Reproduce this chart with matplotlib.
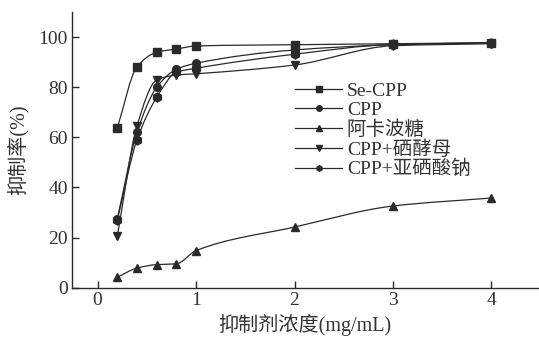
import numpy as np
import matplotlib
matplotlib.use('Agg')
import matplotlib.pyplot as plt
from matplotlib.path import Path
from matplotlib.patches import PathPatch
from matplotlib.lines import Line2D

plt.rcParams['font.family'] = ['Liberation Serif', 'Noto Sans CJK SC']
plt.rcParams['axes.unicode_minus'] = False

# ## Data ## #
conc = [0.2, 0.4, 0.6, 0.8, 1.0, 2.0, 3.0, 4.0]  # mg/mL

se_cpp = [63.8, 88.2, 94.0, 95.3, 96.5, 97.0, 97.4, 97.8]
cpp = [27.5, 62.0, 80.0, 87.2, 89.6, 94.9, 97.0, 97.8]
acarbose = [4.2, 7.8, 9.2, 9.5, 14.8, 24.2, 32.6, 35.8]
cpp_yeast = [20.5, 64.6, 82.9, 84.9, 85.4, 88.9, 96.6, 97.4]
cpp_selenite = [27.0, 59.0, 76.0, 86.0, 87.6, 93.2, 97.1, 97.7]

labels = ['Se-CPP', 'CPP', '阿卡波糖', 'CPP+硒酵母', 'CPP+亚硒酸钠']
markers = ['s', 'o', '^', 'v', 'h']
series = [se_cpp, cpp, acarbose, cpp_yeast, cpp_selenite]

ink = '#2a2a2a'


def smooth_path(x, y):
    # monotone cubic (Fritsch-Butland tangents) drawn as bezier segments
    x = np.asarray(x, float)
    y = np.asarray(y, float)
    h = np.diff(x)
    d = np.diff(y) / h
    m = np.zeros_like(y)
    m[0] = d[0]
    m[-1] = d[-1]
    for k in range(1, len(x) - 1):
        if d[k - 1] * d[k] <= 0:
            m[k] = 0.0
        else:
            w1 = 2 * h[k] + h[k - 1]
            w2 = h[k] + 2 * h[k - 1]
            m[k] = (w1 + w2) / (w1 / d[k - 1] + w2 / d[k])
    verts = [(x[0], y[0])]
    codes = [Path.MOVETO]
    for k in range(len(x) - 1):
        verts += [(x[k] + h[k] / 3, y[k] + m[k] * h[k] / 3),
                  (x[k + 1] - h[k] / 3, y[k + 1] - m[k + 1] * h[k] / 3),
                  (x[k + 1], y[k + 1])]
        codes += [Path.CURVE4] * 3
    return Path(verts, codes)


fig = plt.figure(figsize=(5.39, 3.38), dpi=100)
ax = fig.add_axes([0.1336, 0.149, 0.864, 0.815])

handles = []
for vals, mk, lab in zip(series, markers, labels):
    ax.add_patch(PathPatch(smooth_path(conc, vals), fill=False,
                           edgecolor=ink, lw=0.9))
    ax.plot(conc, vals, linestyle='none', marker=mk, color=ink,
            markersize=5.5 if mk != 'h' else 6.5)
    handles.append(Line2D([], [], color=ink, lw=0.9, marker=mk,
                          markersize=4, label=lab))

ax.set_xlim(-0.26, 4.47)
ax.set_ylim(0, 110)
ax.set_xticks([0, 1, 2, 3, 4])
ax.set_yticks([0, 20, 40, 60, 80, 100])
for s in ['top', 'right']:
    ax.spines[s].set_visible(False)
for s in ['left', 'bottom']:
    ax.spines[s].set_color(ink)
    ax.spines[s].set_linewidth(1.0)
ax.tick_params(direction='in', length=5, width=1.0, colors=ink,
               labelsize=14, labelcolor='#333333', pad=3)

ax.set_xlabel('抑制剂浓度(mg/mL)', fontsize=14.5, color='#333333',
              labelpad=4)
ax.set_ylabel('抑制率(%)', fontsize=14.5, color='#333333', labelpad=7)

ax.legend(handles=handles, loc='upper left',
          bbox_to_anchor=(0.548, 0.757), bbox_transform=fig.transFigure,
          frameon=False, fontsize=14, handlelength=2.4, handletextpad=0.25,
          labelspacing=0.07, borderpad=0.0, borderaxespad=0.0,
          labelcolor='#333333')

plt.savefig('out.png', dpi=100)
